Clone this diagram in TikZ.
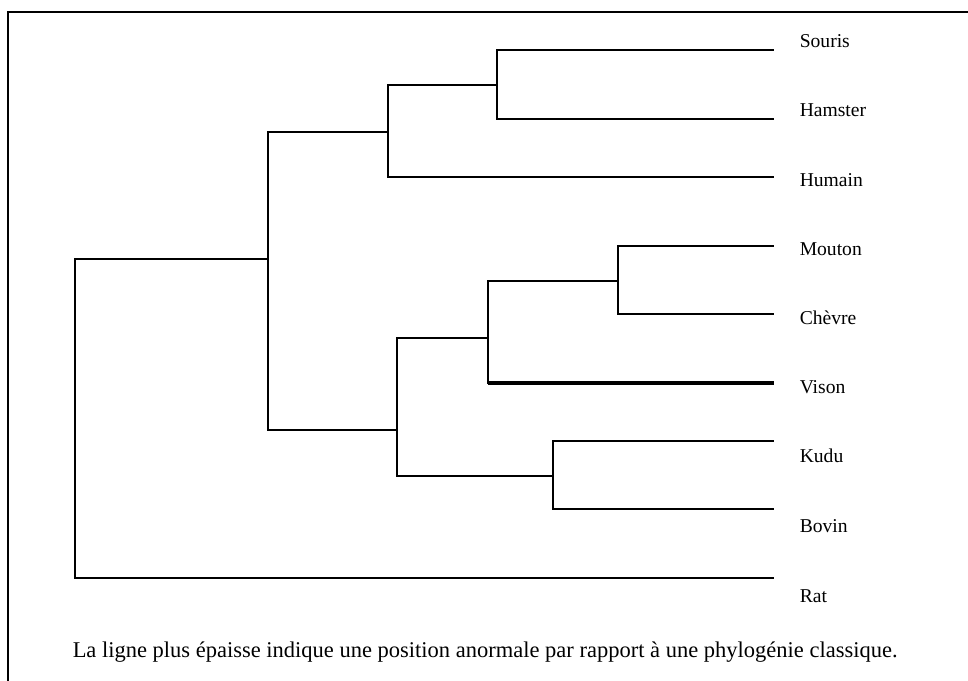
\documentclass[tikz,border=0pt]{standalone}
\usepackage{fontspec}
\setmainfont{Liberation Serif}

\begin{document}
\begin{tikzpicture}[x=1pt,y=-1pt,line width=1.5pt,
  leaf/.style={anchor=base west,inner sep=0pt,font=\fontsize{19.6}{24}\selectfont},
  thickline/.style={line width=3.6pt}]
  \useasboundingbox (0,0) rectangle (968,680);
  \draw[line width=1.7pt] (8,12) rectangle (990,700);

  \coordinate (souris) at (774,50);
  \coordinate (hamster) at (774,119);
  \coordinate (humain) at (774,177);
  \coordinate (mouton) at (774,246);
  \coordinate (chevre) at (774,314);
  \coordinate (vison) at (774,383);
  \coordinate (kudu) at (774,441);
  \coordinate (bovin) at (774,509);
  \coordinate (rat) at (774,578);

  \node[leaf] (lsouris) at (799,47) {Souris};
  \node[leaf] (lhamster) at (799,116) {Hamster};
  \node[leaf] (lhumain) at (799,186) {Humain};
  \node[leaf] (lmouton) at (799,255) {Mouton};
  \node[leaf] (lchevre) at (799,324) {Chèvre};
  \node[leaf] (lvison) at (799,393) {Vison};
  \node[leaf] (lkudu) at (799,462) {Kudu};
  \node[leaf] (lbovin) at (799,532) {Bovin};
  \node[leaf] (lrat) at (799,602) {Rat};

  \coordinate (sh) at (497,85);
  \coordinate (shh) at (388,132);
  \coordinate (mc) at (618,281);
  \coordinate (mcv) at (488,338);
  \coordinate (kb) at (553,476);
  \coordinate (mcvkb) at (397,430);
  \coordinate (top) at (268,259);
  \coordinate (root) at (75,418);

  \draw (sh) |- (souris);
  \draw (sh) |- (hamster);
  \draw (shh) |- (sh);
  \draw (shh) |- (humain);
  \draw (mc) |- (mouton);
  \draw (mc) |- (chevre);
  \draw (mcv) |- (mc);
  \draw (mcv) |- (vison);
  \draw[thickline] (mcv |- vison) -- (vison);
  \draw (kb) |- (kudu);
  \draw (kb) |- (bovin);
  \draw (mcvkb) |- (mcv);
  \draw (mcvkb) |- (kb);
  \draw (top) |- (shh);
  \draw (top) |- (mcvkb);
  \draw (root) |- (top);
  \draw (root) |- (rat);

  \node[leaf,font=\fontsize{22.5}{27}\selectfont] (legende) at (72,657) {La ligne plus épaisse indique une position anormale par rapport à une phylogénie classique.};
\end{tikzpicture}
\end{document}
